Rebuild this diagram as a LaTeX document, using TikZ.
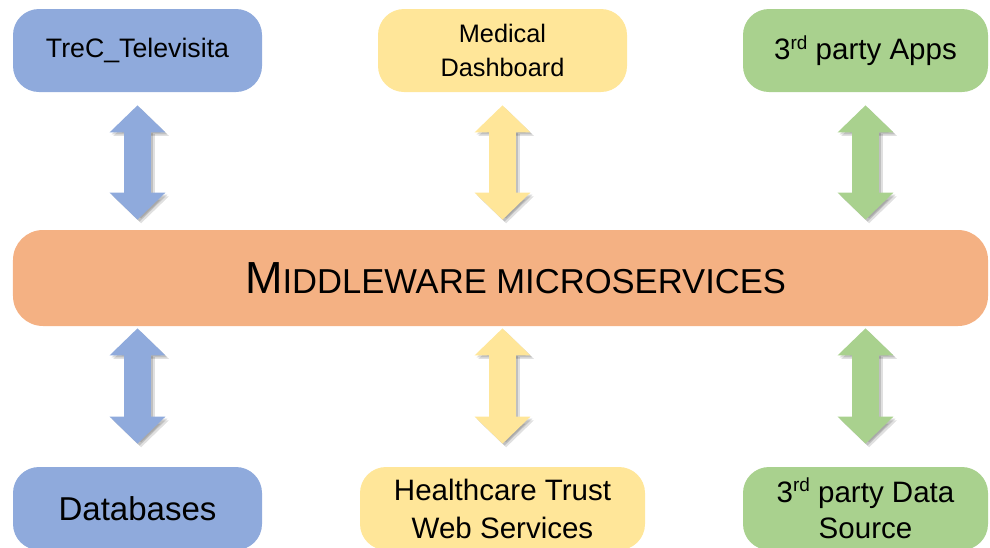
\documentclass[tikz,border=0pt]{standalone}
\usepackage{fontspec}
\setmainfont{Liberation Sans}
\usetikzlibrary{arrows.meta}

\definecolor{boxblue}{HTML}{8FAADC}
\definecolor{boxyellow}{HTML}{FFE699}
\definecolor{boxgreen}{HTML}{A9D18E}
\definecolor{boxorange}{HTML}{F4B183}

% raised ordinal suffix, as in 3rd
\newcommand{\ordsuf}[1]{\raisebox{7.5pt}{\fontsize{13.5}{14}\selectfont #1}}

\tikzset{
    pill/.style={rectangle, rounded corners=0.65cm, fill=#1, inner sep=0pt,
        minimum height=2.075cm, align=center},
    dbl/.style={line width=0.675cm,
        {Triangle[length=0.675cm,width=1.35cm]}-{Triangle[length=0.675cm,width=1.35cm]}},
    link/.style={dbl, draw=#1,
        preaction={dbl, draw=black, opacity=0.12, transform canvas={shift={(0.09,-0.09)}}},
        preaction={dbl, draw=black, opacity=0.14, transform canvas={shift={(0.05,-0.05)}}}}
}

\begin{document}
\begin{tikzpicture}
        \useasboundingbox (0,0) rectangle (24.75,-13.675);
        \clip (0,0) rectangle (24.75,-13.675);

        % Top row
        \node[pill=boxblue, minimum width=6.225cm, font=\fontsize{19}{23}\selectfont] (trec) at (3.4375,-1.2625) {TreC\_Televisita};
        \node[pill=boxyellow, minimum width=6.225cm, font=\fontsize{18}{24}\selectfont] (dash) at (12.5625,-1.2625) {Medical\\Dashboard};
        \node[pill=boxgreen, minimum width=6.125cm, font=\fontsize{21}{26}\selectfont] (apps) at (21.6375,-1.2625) {3\ordsuf{rd} party Apps};

        % Middleware bar
        \node[pill=boxorange, rounded corners=0.75cm, minimum width=24.375cm, minimum height=2.4cm] (mw) at (12.5125,-6.95) {};
        \node (mwtext) at ([xshift=0.375cm]mw.center)
            {\fontsize{32}{38}\selectfont M\fontsize{24.6}{30}\selectfont IDDLEWARE MICROSERVICES};

        % Bottom row
        \node[pill=boxblue, minimum width=6.225cm, font=\fontsize{23.5}{28}\selectfont] (db) at (3.4375,-12.7125) {Databases};
        \node[pill=boxyellow, minimum width=7.125cm, font=\fontsize{21}{27}\selectfont] (hts) at (12.5625,-12.7125) {Healthcare Trust\\Web Services};
        \node[pill=boxgreen, minimum width=6.125cm, font=\fontsize{21}{26}\selectfont] (src) at (21.6375,-12.7125) {3\ordsuf{rd} party Data\\Source};

        % Upper arrows
        \draw[link=boxblue, shorten <=0.325cm, shorten >=0.25cm] (trec.south) -- (trec.south |- mw.north);
        \draw[link=boxyellow, shorten <=0.325cm, shorten >=0.25cm] (dash.south) -- (dash.south |- mw.north);
        \draw[link=boxgreen, shorten <=0.325cm, shorten >=0.25cm] (apps.south) -- (apps.south |- mw.north);

        % Lower arrows
        \draw[link=boxblue, shorten <=0.05cm, shorten >=0.575cm] (db.north |- mw.south) -- (db.north);
        \draw[link=boxyellow, shorten <=0.05cm, shorten >=0.575cm] (hts.north |- mw.south) -- (hts.north);
        \draw[link=boxgreen, shorten <=0.05cm, shorten >=0.575cm] (src.north |- mw.south) -- (src.north);
\end{tikzpicture}
\end{document}
